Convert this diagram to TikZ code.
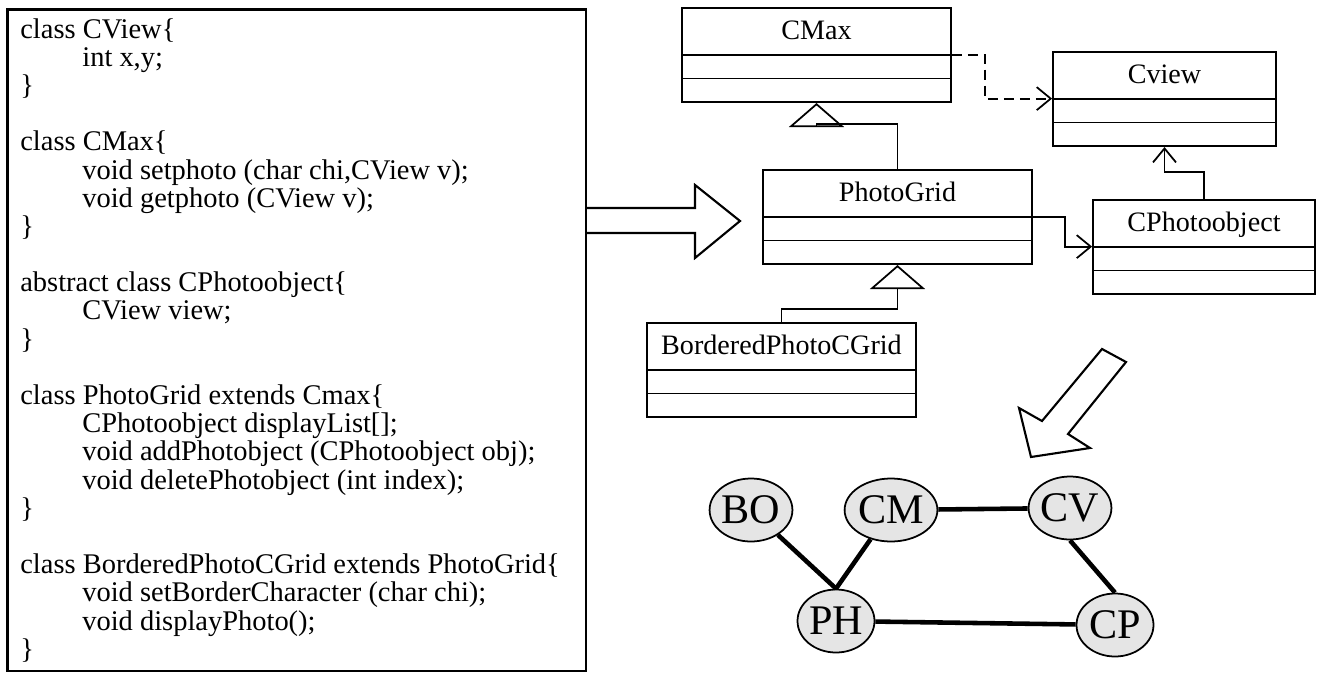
\documentclass[tikz,border=0pt]{standalone}
\usepackage{fontspec}
\setmainfont{Liberation Serif}
\usetikzlibrary{shapes.multipart,shapes.geometric,arrows.meta}

\tikzset{
  umlclass/.style={rectangle split, rectangle split parts=3, draw, line width=1pt,
    inner xsep=0pt, inner ysep=0pt, rectangle split empty part height=0.44cm,
    rectangle split empty part depth=0pt, anchor=north, font=\fontsize{16}{16}\selectfont},
  graphnode/.style={ellipse, draw, line width=1pt, fill=gray!20, inner sep=0pt,
    minimum width=1.54cm, minimum height=1.26cm, font=\fontsize{24}{24}\selectfont},
  graphedge/.style={line width=2.6pt},
  bigarrow/.style={line width=1.2pt, line join=miter},
  uses/.style={line width=1pt, -{Straight Barb[length=0.28cm,width=0.46cm]}},
  extends/.style={line width=1pt, -{Triangle[open,length=0.48cm,width=1.1cm]}}
}
\newcommand{\ttl}{\rule[-0.28cm]{0pt}{0.9cm}}
\newcommand{\ind}{\hspace*{1.24cm}}

\begin{document}
\begin{tikzpicture}
\useasboundingbox (0,0) rectangle (26.38,-13.48);
% code listing
\draw[line width=1.2pt] (0.15,-0.19) rectangle (11.72,-13.42);
\node[anchor=north west, inner sep=0pt, align=left, font=\fontsize{16.2}{16.05}\selectfont] (code) at (0.40,-0.36) {%
class CView\{\\
\ind int x,y;\\
\}\\[16pt]
class CMax\{\\
\ind void setphoto (char chi,CView v);\\
\ind void getphoto (CView v);\\
\}\\[16pt]
abstract class CPhotoobject\{\\
\ind CView view;\\
\}\\[16pt]
class PhotoGrid extends Cmax\{\\
\ind CPhotoobject displayList[];\\
\ind void addPhotobject (CPhotoobject obj);\\
\ind void deletePhotobject (int index);\\
\}\\[16pt]
class BorderedPhotoCGrid extends PhotoGrid\{\\
\ind void setBorderCharacter (char chi);\\
\ind void displayPhoto();\\
\}};

% big arrows
\draw[bigarrow] (11.72,-4.16) -- (13.90,-4.16) -- (13.90,-3.70) -- (14.80,-4.42)
  -- (13.90,-5.16) -- (13.90,-4.66) -- (11.72,-4.66);
\draw[bigarrow] (22.04,-6.98) -- (22.52,-7.24) -- (21.36,-8.68) -- (21.80,-8.96)
  -- (20.62,-9.14) -- (20.38,-8.16) -- (20.84,-8.42) -- cycle;

% class diagram
\node[umlclass, minimum width=5.38cm] (cmax) at (16.33,-0.14) {\ttl CMax};
\node[umlclass, minimum width=4.46cm] (cview) at (23.29,-1.02) {\ttl Cview};
\node[umlclass, minimum width=5.38cm] (photogrid) at (17.95,-3.38) {\ttl PhotoGrid};
\node[umlclass, minimum width=4.44cm] (cphoto) at (24.08,-3.98) {\ttl CPhotoobject};
\node[umlclass, minimum width=5.38cm] (bordered) at (15.63,-6.44) {\ttl BorderedPhotoCGrid};

\draw[uses, dash pattern=on 0.2cm off 0.12cm] (cmax.text split east) -- ++(0.66,0) |- (cview.text split west);
\draw[uses] (photogrid.text split east) -- ++(0.64,0) |- (cphoto.text split west);
\draw[uses] (cphoto.north) -- ++(0,0.54) -| (cview.south);
\draw[extends] (photogrid.north) -- ++(0,0.9) -| (cmax.south);
\draw[extends] (bordered.north) -- ++(0,0.26) -| (photogrid.south);

% graph
\node[graphnode] (bo) at (15.02,-10.20) {BO};
\node[graphnode] (cm) at (17.82,-10.20) {CM};
\node[graphnode] (cv) at (21.40,-10.16) {CV};
\node[graphnode] (ph) at (16.72,-12.42) {PH};
\node[graphnode] (cp) at (22.30,-12.50) {CP};

\draw[graphedge] (bo) -- (ph.north);
\draw[graphedge] (cm) -- (ph.north);
\draw[graphedge] (cm) -- (cv);
\draw[graphedge] (cv.south) -- (cp.north);
\draw[graphedge] (ph) -- (cp);
\end{tikzpicture}
\end{document}
